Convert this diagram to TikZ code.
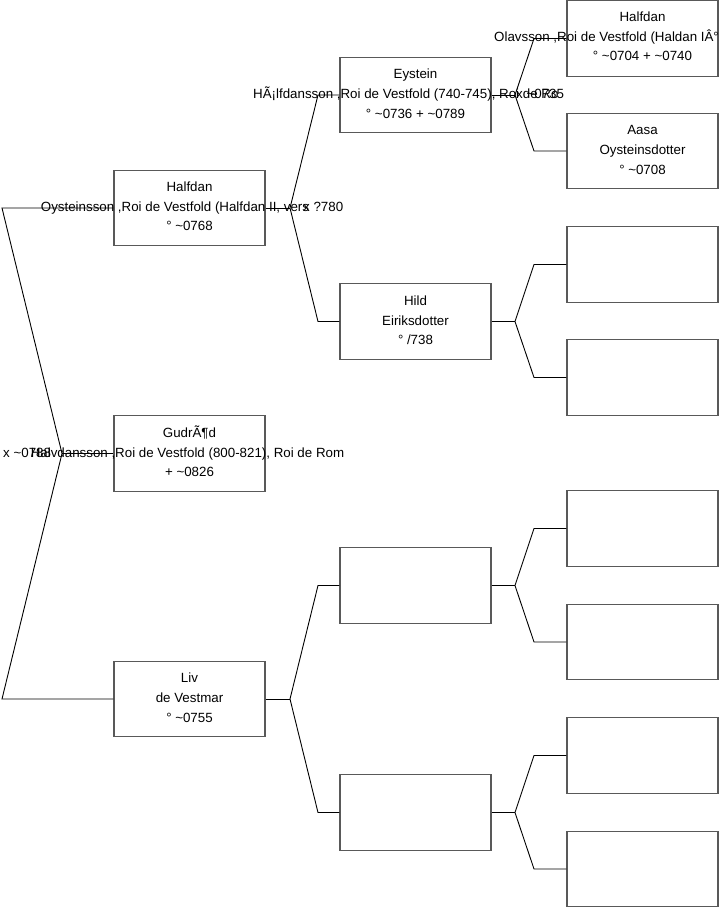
\documentclass[tikz,border=0pt]{standalone}
\usepackage{fontspec}
\setmainfont{Liberation Sans}
\begin{document}
\begin{tikzpicture}[x=1pt,y=-1pt,
  pbox/.style={draw=black!65, line width=1.2pt, minimum width=151pt, minimum height=75.5pt, inner sep=0pt},
  conn/.style={draw=black, line width=0.9pt},
  txt/.style={font=\fontsize{13.33}{16}\selectfont, inner sep=0pt, anchor=base},
  txtw/.style={txt, anchor=base west}]
\useasboundingbox (0,0) rectangle (719,908);
% boxes
\node[pbox] (g1) at (189.5,453.5) {};
\node[pbox] (h)  at (189.5,208) {};
\node[pbox] (l)  at (189.5,699) {};
\node[pbox] (e)  at (415.5,95) {};
\node[pbox] (hi) at (415.5,321.5) {};
\node[pbox] (u1) at (415.5,585.5) {};
\node[pbox] (u2) at (415.5,812.5) {};
\node[pbox] (a1) at (642.5,38.5) {};
\node[pbox] (a2) at (642.5,151) {};
\node[pbox] (a3) at (642.5,264.5) {};
\node[pbox] (a4) at (642.5,377.5) {};
\node[pbox] (a5) at (642.5,528.5) {};
\node[pbox] (a6) at (642.5,642) {};
\node[pbox] (a7) at (642.5,755.5) {};
\node[pbox] (a8) at (642.5,869) {};
% connectors
\coordinate (f1) at (62,453.5);
\coordinate (f1t) at (2,208);
\coordinate (f1b) at (2,699);
\draw[conn] (g1.west) -- (f1);
\draw[conn] (f1) -- (f1t) -- (h.west);
\draw[conn] (f1) -- (f1b) -- (l.west);
\coordinate (fh) at (290,208);
\coordinate (fht) at (318,95);
\coordinate (fhb) at (318,321.5);
\draw[conn] (h.east) -- (fh);
\draw[conn] (fh) -- (fht) -- (e.west);
\draw[conn] (fh) -- (fhb) -- (hi.west);
\coordinate (fl) at (290,699);
\coordinate (flt) at (318,585.5);
\coordinate (flb) at (318,812.5);
\draw[conn] (l.east) -- (fl);
\draw[conn] (fl) -- (flt) -- (u1.west);
\draw[conn] (fl) -- (flb) -- (u2.west);
\coordinate (fe) at (515,95);
\coordinate (fet) at (534,38.5);
\coordinate (feb) at (534,151);
\draw[conn] (e.east) -- (fe);
\draw[conn] (fe) -- (fet) -- (a1.west);
\draw[conn] (fe) -- (feb) -- (a2.west);
\coordinate (fi) at (515,321.5);
\coordinate (fit) at (534,264.5);
\coordinate (fib) at (534,377.5);
\draw[conn] (hi.east) -- (fi);
\draw[conn] (fi) -- (fit) -- (a3.west);
\draw[conn] (fi) -- (fib) -- (a4.west);
\coordinate (fu) at (515,585.5);
\coordinate (fut) at (534,528.5);
\coordinate (fub) at (534,642);
\draw[conn] (u1.east) -- (fu);
\draw[conn] (fu) -- (fut) -- (a5.west);
\draw[conn] (fu) -- (fub) -- (a6.west);
\coordinate (fv) at (515,812.5);
\coordinate (fvt) at (534,755.5);
\coordinate (fvb) at (534,869);
\draw[conn] (u2.east) -- (fv);
\draw[conn] (fv) -- (fvt) -- (a7.west);
\draw[conn] (fv) -- (fvb) -- (a8.west);
% texts
\node[txt] (g1a) at (189.5,437) {GudrÃ¶d};
\node[txt] (g1b) at (187.5,457) {Halvdansson ,Roi de Vestfold (800-821), Roi de Rom};
\node[txt] (g1c) at (189.5,476.5) {+ \textasciitilde0826};
\node[txt] (ha) at (189.5,191.5) {Halfdan};
\node[txtw] (hb) at (40.7,211.5) {Oysteinsson ,Roi de Vestfold (Halfdan II, vers};
\node[txt] (hc) at (189.5,230.5) {° \textasciitilde0768};
\node[txt] (la) at (189.5,682.5) {Liv};
\node[txt] (lb) at (189.5,702.5) {de Vestmar};
\node[txt] (lc) at (189.5,722) {° \textasciitilde0755};
\node[txt] (ea) at (415.5,78.5) {Eystein};
\node[txtw] (eb) at (253,98.5) {HÃ¡lfdansson ,Roi de Vestfold (740-745), Roi de Ro};
\node[txt] (ec) at (415.5,118) {° \textasciitilde0736 + \textasciitilde0789};
\node[txt] (hia) at (415.5,305) {Hild};
\node[txt] (hib) at (415.5,325) {Eiriksdotter};
\node[txt] (hic) at (415.5,344.5) {° /738};
\node[txt] (a1a) at (642.5,21) {Halfdan};
\node[txtw] (a1b) at (494,41) {Olavsson ,Roi de Vestfold (Haldan IÂ°};
\node[txt] (a1c) at (642.5,60.5) {° \textasciitilde0704 + \textasciitilde0740};
\node[txt] (a2a) at (642.5,134.5) {Aasa};
\node[txt] (a2b) at (642.5,154.5) {Oysteinsdotter};
\node[txt] (a2c) at (642.5,174) {° \textasciitilde0708};
% marriage labels
\node[txtw] (m1) at (3,457) {x \textasciitilde0788};
\node[txtw] (m2) at (303,211.5) {x ?780};
\node[txtw] (m3) at (516,98.5) {x \textasciitilde0735};
\end{tikzpicture}
\end{document}
